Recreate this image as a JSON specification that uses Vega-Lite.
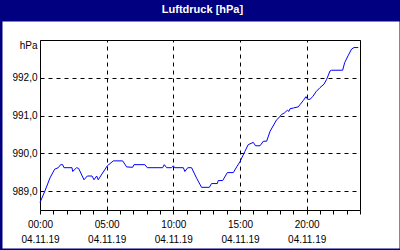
{
  "$schema": "https://vega.github.io/schema/vega-lite/v6.json",
  "width": 397,
  "height": 227,
  "autosize": {"type": "none"},
  "padding": {"left": 2, "right": 1, "top": 21, "bottom": 2},
  "background": "#000080",
  "title": {"text": "Luftdruck [hPa]", "color": "white", "font": "Liberation Sans", "fontSize": 11, "fontWeight": "bold", "anchor": "middle", "baseline": "middle", "offset": 0, "frame": "group", "dx": 2},
  "config": {
    "view": {"fill": "white", "stroke": "transparent"},
    "axis": {"labelFont": "Liberation Sans", "labelFontSize": 10, "labelColor": "black", "domainColor": "black", "tickColor": "black", "gridColor": "black", "gridOpacity": 1, "domainWidth": 1, "gridWidth": 1, "title": null}
  },
  "data": {"values": [
    {"t": "2019-11-04T00:00", "p": 988.7},
    {"t": "2019-11-04T00:22", "p": 989.0},
    {"t": "2019-11-04T00:45", "p": 989.35},
    {"t": "2019-11-04T01:06", "p": 989.58},
    {"t": "2019-11-04T01:22", "p": 989.62},
    {"t": "2019-11-04T01:33", "p": 989.7},
    {"t": "2019-11-04T01:42", "p": 989.7},
    {"t": "2019-11-04T01:48", "p": 989.62},
    {"t": "2019-11-04T02:24", "p": 989.62},
    {"t": "2019-11-04T02:27", "p": 989.52},
    {"t": "2019-11-04T02:45", "p": 989.62},
    {"t": "2019-11-04T02:54", "p": 989.6},
    {"t": "2019-11-04T03:18", "p": 989.3},
    {"t": "2019-11-04T03:33", "p": 989.4},
    {"t": "2019-11-04T03:54", "p": 989.4},
    {"t": "2019-11-04T04:03", "p": 989.3},
    {"t": "2019-11-04T04:15", "p": 989.4},
    {"t": "2019-11-04T04:22", "p": 989.3},
    {"t": "2019-11-04T04:33", "p": 989.4},
    {"t": "2019-11-04T05:03", "p": 989.67},
    {"t": "2019-11-04T05:30", "p": 989.8},
    {"t": "2019-11-04T06:12", "p": 989.8},
    {"t": "2019-11-04T06:30", "p": 989.64},
    {"t": "2019-11-04T06:57", "p": 989.63},
    {"t": "2019-11-04T07:03", "p": 989.7},
    {"t": "2019-11-04T07:52", "p": 989.7},
    {"t": "2019-11-04T08:03", "p": 989.62},
    {"t": "2019-11-04T09:12", "p": 989.62},
    {"t": "2019-11-04T09:19", "p": 989.7},
    {"t": "2019-11-04T09:30", "p": 989.62},
    {"t": "2019-11-04T09:52", "p": 989.62},
    {"t": "2019-11-04T10:00", "p": 989.67},
    {"t": "2019-11-04T10:06", "p": 989.62},
    {"t": "2019-11-04T10:45", "p": 989.62},
    {"t": "2019-11-04T10:52", "p": 989.52},
    {"t": "2019-11-04T11:05", "p": 989.62},
    {"t": "2019-11-04T11:22", "p": 989.62},
    {"t": "2019-11-04T11:45", "p": 989.34},
    {"t": "2019-11-04T12:07", "p": 989.1},
    {"t": "2019-11-04T12:42", "p": 989.1},
    {"t": "2019-11-04T12:52", "p": 989.2},
    {"t": "2019-11-04T13:18", "p": 989.2},
    {"t": "2019-11-04T13:22", "p": 989.28},
    {"t": "2019-11-04T13:42", "p": 989.28},
    {"t": "2019-11-04T14:03", "p": 989.49},
    {"t": "2019-11-04T14:30", "p": 989.49},
    {"t": "2019-11-04T14:45", "p": 989.64},
    {"t": "2019-11-04T15:00", "p": 989.78},
    {"t": "2019-11-04T15:22", "p": 990.05},
    {"t": "2019-11-04T15:37", "p": 990.23},
    {"t": "2019-11-04T16:00", "p": 990.29},
    {"t": "2019-11-04T16:10", "p": 990.2},
    {"t": "2019-11-04T16:30", "p": 990.2},
    {"t": "2019-11-04T16:45", "p": 990.32},
    {"t": "2019-11-04T17:00", "p": 990.32},
    {"t": "2019-11-04T17:15", "p": 990.58},
    {"t": "2019-11-04T17:45", "p": 990.89},
    {"t": "2019-11-04T17:55", "p": 990.94},
    {"t": "2019-11-04T18:07", "p": 991.03},
    {"t": "2019-11-04T18:20", "p": 991.07},
    {"t": "2019-11-04T18:33", "p": 991.14},
    {"t": "2019-11-04T18:40", "p": 991.11},
    {"t": "2019-11-04T18:45", "p": 991.18},
    {"t": "2019-11-04T19:00", "p": 991.2},
    {"t": "2019-11-04T19:22", "p": 991.23},
    {"t": "2019-11-04T19:30", "p": 991.29},
    {"t": "2019-11-04T19:45", "p": 991.4},
    {"t": "2019-11-04T19:57", "p": 991.5},
    {"t": "2019-11-04T20:04", "p": 991.43},
    {"t": "2019-11-04T20:15", "p": 991.43},
    {"t": "2019-11-04T20:27", "p": 991.5},
    {"t": "2019-11-04T20:42", "p": 991.63},
    {"t": "2019-11-04T21:00", "p": 991.74},
    {"t": "2019-11-04T21:18", "p": 991.83},
    {"t": "2019-11-04T21:30", "p": 991.96},
    {"t": "2019-11-04T21:45", "p": 992.18},
    {"t": "2019-11-04T21:52", "p": 992.2},
    {"t": "2019-11-04T22:42", "p": 992.2},
    {"t": "2019-11-04T22:51", "p": 992.4},
    {"t": "2019-11-04T23:06", "p": 992.58},
    {"t": "2019-11-04T23:22", "p": 992.76},
    {"t": "2019-11-04T23:33", "p": 992.8},
    {"t": "2019-11-04T23:52", "p": 992.8}
  ]},
  "layer": [
    {
      "mark": {"type": "line", "strokeOpacity": 0},
      "encoding": {
        "x": {"field": "t", "type": "temporal",
          "scale": {"domain": [{"year": 2019, "month": 11, "date": 4, "hours": 0}, {"year": 2019, "month": 11, "date": 5, "hours": 0}], "range": [38, 358], "nice": false},
          "axis": {"orient": "top", "offset": -19, "labels": false, "ticks": false, "domain": true, "grid": true,
            "values": [{"year": 2019, "month": 11, "date": 4, "hours": 5}, {"year": 2019, "month": 11, "date": 4, "hours": 10}, {"year": 2019, "month": 11, "date": 4, "hours": 15}, {"year": 2019, "month": 11, "date": 4, "hours": 20}, {"year": 2019, "month": 11, "date": 5, "hours": 0}],
            "gridDash": {"condition": {"test": "date(datum.value) == 5", "value": []}, "value": [4, 4]}}},
        "y": {"field": "p", "type": "quantitative", "scale": {"domain": [988.5, 993], "range": [189, 19], "zero": false, "nice": false}, "axis": null}
      }
    },
    {
      "mark": {"type": "line", "color": "#0000ff", "strokeWidth": 1},
      "encoding": {
        "x": {"field": "t", "type": "temporal",
          "axis": {"orient": "bottom", "offset": -38, "grid": false, "tickSize": 4, "labelPadding": 5, "labelBaseline": "top", "labelLineHeight": 15, "labelOverlap": false, "labelFlush": false, "labelBound": false, "labelAngle": 0,
            "values": [
              {"year": 2019, "month": 11, "date": 4, "hours": 0}, {"year": 2019, "month": 11, "date": 4, "hours": 1}, {"year": 2019, "month": 11, "date": 4, "hours": 2}, {"year": 2019, "month": 11, "date": 4, "hours": 3}, {"year": 2019, "month": 11, "date": 4, "hours": 4},
              {"year": 2019, "month": 11, "date": 4, "hours": 5}, {"year": 2019, "month": 11, "date": 4, "hours": 6}, {"year": 2019, "month": 11, "date": 4, "hours": 7}, {"year": 2019, "month": 11, "date": 4, "hours": 8}, {"year": 2019, "month": 11, "date": 4, "hours": 9},
              {"year": 2019, "month": 11, "date": 4, "hours": 10}, {"year": 2019, "month": 11, "date": 4, "hours": 11}, {"year": 2019, "month": 11, "date": 4, "hours": 12}, {"year": 2019, "month": 11, "date": 4, "hours": 13}, {"year": 2019, "month": 11, "date": 4, "hours": 14},
              {"year": 2019, "month": 11, "date": 4, "hours": 15}, {"year": 2019, "month": 11, "date": 4, "hours": 16}, {"year": 2019, "month": 11, "date": 4, "hours": 17}, {"year": 2019, "month": 11, "date": 4, "hours": 18}, {"year": 2019, "month": 11, "date": 4, "hours": 19},
              {"year": 2019, "month": 11, "date": 4, "hours": 20}, {"year": 2019, "month": 11, "date": 4, "hours": 21}, {"year": 2019, "month": 11, "date": 4, "hours": 22}, {"year": 2019, "month": 11, "date": 4, "hours": 23}, {"year": 2019, "month": 11, "date": 5, "hours": 0}
            ],
            "labelExpr": "(hours(datum.value) % 5 == 0 && date(datum.value) == 4) ? [timeFormat(datum.value, '%H:%M'), timeFormat(datum.value, '%d.%m.%y')] : ''"}},
        "y": {"field": "p", "type": "quantitative",
          "axis": {"orient": "left", "offset": -38, "ticks": false, "tickSize": 0, "labelPadding": 3, "grid": true, "domain": true,
            "values": [989, 990, 991, 992, 993],
            "labelExpr": "datum.value == 993 ? 'hPa' : replace(format(datum.value, '.1f'), '.', ',')",
            "labelOffset": {"condition": {"test": "datum.value == 993", "value": 5}, "value": 0},
            "gridDash": {"condition": {"test": "datum.value == 993", "value": []}, "value": [4, 4]}}}
      }
    }
  ],
  "resolve": {"axis": {"x": "independent", "y": "independent"}}
}
